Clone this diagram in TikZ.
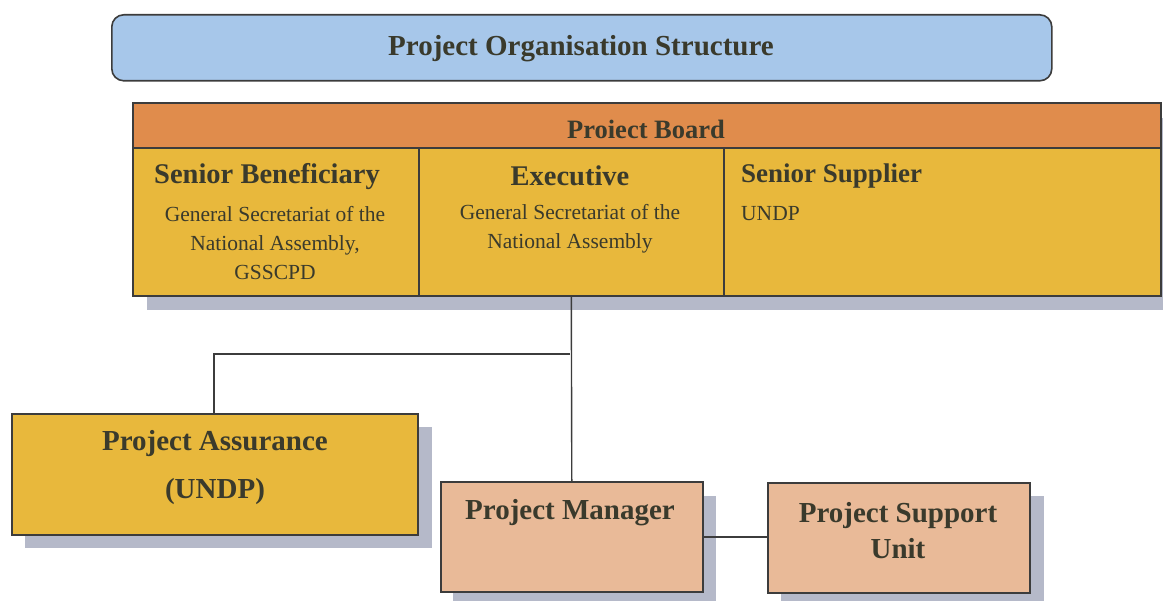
\documentclass[tikz,border=0pt]{standalone}
\usepackage{fontspec}
\setmainfont{Liberation Serif}
\definecolor{titlefill}{HTML}{A7C7EA}
\definecolor{orangefill}{HTML}{E08C4C}
\definecolor{goldfill}{HTML}{E8B83C}
\definecolor{peachfill}{HTML}{E9BA98}
\definecolor{shadowc}{HTML}{B5B9C9}
\definecolor{edge}{HTML}{3C3C3C}
\definecolor{txt}{HTML}{3A3A2C}
\begin{document}
\begin{tikzpicture}[x=1pt,y=-1pt,
  boxline/.style={draw=edge, line width=1.6pt},
  shade/.style={fill=shadowc, draw=none},
  link/.style={draw=edge, line width=1.4pt},
  lbl/.style={text=txt, inner sep=0pt, align=center},
  head/.style={lbl, font=\fontsize{29}{34}\selectfont\bfseries},
  sub/.style={lbl, font=\fontsize{21.5}{29}\selectfont}
]
\useasboundingbox (0,0) rectangle (1163,601);
\fill[white] (0,0) rectangle (1163,601);

% shadows
\fill[shade] (147,118) rectangle (1175,310);
\fill[shade] (25,427) rectangle (432,548);
\fill[shade] (453,496) rectangle (716,610);
\fill[shade] (781,496) rectangle (1044,610);

% title
\node[boxline, fill=titlefill, rounded corners=12pt, minimum width=940pt, minimum height=66pt, anchor=north west, inner sep=0pt] (title) at (111,14) {};
\node[head] (titletext) at (581,48.5) {Project Organisation Structure};

% project board
\node[boxline, fill=orangefill, minimum width=1028pt, minimum height=45pt, anchor=north west, inner sep=0pt] (boardhead) at (132,102) {};
\node[head, font=\fontsize{26.5}{30}\selectfont\bfseries] (boardtext) at (646,129) {Proiect Board};
\node[boxline, fill=goldfill, minimum width=286pt, minimum height=148pt, anchor=north west, inner sep=0pt] (sb) at (132,147) {};
\node[boxline, fill=goldfill, minimum width=305pt, minimum height=148pt, anchor=north west, inner sep=0pt] (ex) at (418,147) {};
\node[boxline, fill=goldfill, minimum width=437pt, minimum height=148pt, anchor=north west, inner sep=0pt] (ss) at (723,147) {};

\node[head, font=\fontsize{28.5}{34}\selectfont\bfseries] (sbt) at (267,177) {Senior Beneficiary};
\node[sub] (sbs) at (275,243) {General Secretariat of the\\National Assembly,\\GSSCPD};
\node[head, font=\fontsize{28.5}{34}\selectfont\bfseries] (ext) at (570,176) {Executive};
\node[sub] (exs) at (570,229) {General Secretariat of the\\National Assembly};
\node[head, font=\fontsize{27}{34}\selectfont\bfseries, anchor=west] (sst) at (741,176) {Senior Supplier};
\node[sub, anchor=west] (sss) at (741,214) {UNDP};

% lower boxes
\node[boxline, fill=goldfill, minimum width=406pt, minimum height=121pt, anchor=north west, inner sep=0pt] (pa) at (11,413) {};
\node[head, font=\fontsize{29}{48}\selectfont\bfseries] (pat) at (215,468) {Project Assurance\\(UNDP)};
\node[boxline, fill=peachfill, minimum width=262pt, minimum height=110pt, anchor=north west, inner sep=0pt] (pm) at (440,481) {};
\node[head] (pmt) at (570,513) {Project Manager};
\node[boxline, fill=peachfill, minimum width=262pt, minimum height=110pt, anchor=north west, inner sep=0pt] (psu) at (767,482) {};
\node[head, font=\fontsize{29}{36}\selectfont\bfseries] (psut) at (898,531) {Project Support\\Unit};

% connectors
\coordinate (branch) at (570,354);
\draw[link] (ex.south) -- (pm.north);
\draw[link] (branch) -| (pa.north -| 214,0);
\draw[link] (pm.east |- 0,537) -- (psu.west |- 0,537);
\end{tikzpicture}
\end{document}
